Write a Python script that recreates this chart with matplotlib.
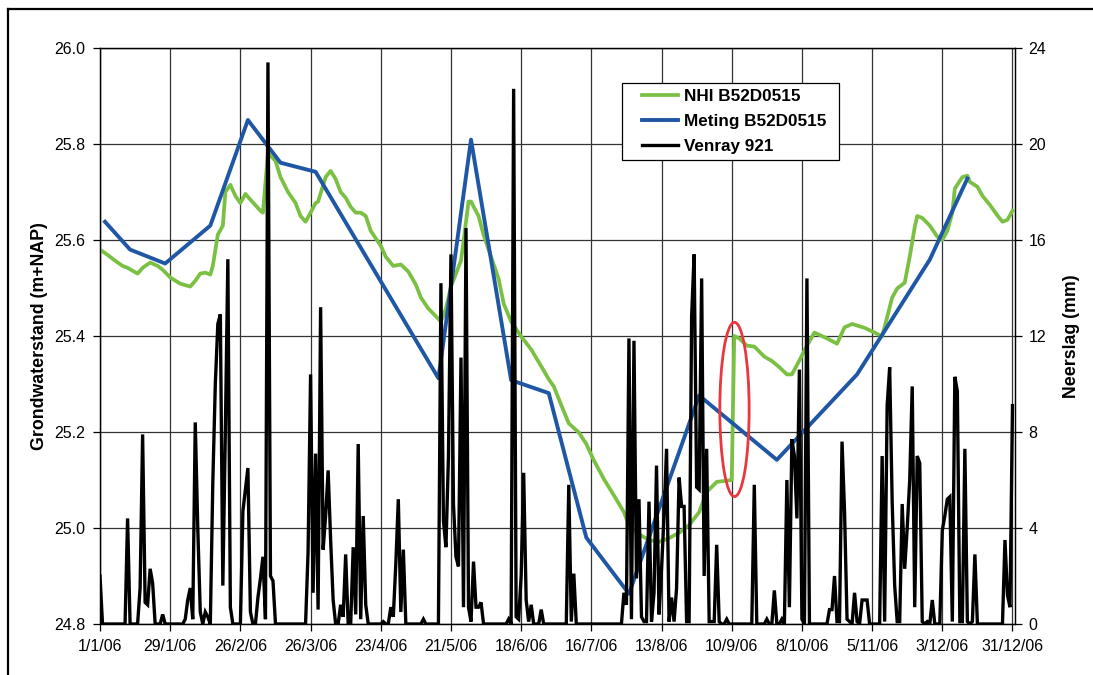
import matplotlib.pyplot as plt
from matplotlib.lines import Line2D
from matplotlib.legend_handler import HandlerLine2D
from matplotlib.patches import Ellipse

plt.rcParams['font.family'] = ['Liberation Sans', 'DejaVu Sans']

# dag 0 = 1/1/06, ticks elke 4 weken
tick_dagen = list(range(0, 365, 28))
tick_labels = ['1/1/06', '29/1/06', '26/2/06', '26/3/06', '23/4/06', '21/5/06', '18/6/06',
               '16/7/06', '13/8/06', '10/9/06', '8/10/06', '5/11/06', '3/12/06', '31/12/06']

# neerslag Venray 921 (mm/dag), 28 dagen per regel
neerslag = [
    2.0, 0, 0, 0, 0, 0, 0, 0, 0, 0, 0, 4.4, 0, 0, 0, 0, 1.5, 7.9, 0.9, 0.8, 2.3, 1.7, 0, 0, 0, 0.4, 0, 0,
    0, 0, 0, 0, 0, 0, 0.2, 1.0, 1.5, 0.2, 8.4, 4.0, 0.5, 0, 0.5, 0.3, 0, 5.9, 10.0, 12.5, 12.9, 1.6, 8.0, 15.2, 0.7, 0, 0, 0,
    0, 4.7, 5.6, 6.5, 0.5, 0, 0, 1.1, 1.9, 2.8, 0.2, 23.4, 2.0, 1.8, 0, 0, 0, 0, 0, 0, 0, 0, 0, 0, 0, 0, 0, 3.0,
    10.4, 1.3, 7.1, 0.6, 13.2, 3.1, 4.5, 6.4, 3.5, 1.0, 0, 0, 0.8, 0.3, 2.9, 0, 0, 3.2, 0.4, 7.5, 0.2, 4.5, 0.8, 0, 0, 0, 0, 0,
    0, 0.1, 0, 0, 0.7, 0.3, 2.5, 5.2, 0.5, 3.1, 0, 0, 0, 0, 0, 0, 0, 0.2, 0, 0, 0, 0, 0, 0, 14.2, 4.3, 3.2, 7.0,
    15.4, 5.0, 2.8, 2.4, 11.1, 0.7, 16.5, 0.7, 0.1, 2.6, 0.7, 0.7, 0.9, 0, 0, 0, 0, 0, 0, 0, 0, 0, 0, 0.2, 0, 22.3, 0.3, 0.2,
    2.0, 6.3, 1.0, 0.1, 0.8, 0, 0, 0, 0.6, 0, 0, 0, 0, 0, 0, 0, 0, 0, 0, 5.8, 0.1, 2.1, 0, 0, 0, 0, 0, 0,
    0, 0, 0, 0, 0, 0, 0, 0, 0, 0, 0, 0, 0, 1.3, 0.8, 11.9, 0.2, 11.8, 1.9, 5.2, 0.3, 0.1, 0.1, 5.1, 0.1, 1.3, 6.6, 0.4,
    2.3, 4.5, 7.3, 0.1, 1.1, 0.1, 1.5, 6.1, 4.9, 4.9, 0.1, 0.1, 12.8, 15.4, 5.7, 5.6, 14.4, 2.0, 7.3, 0.1, 0.1, 0.1, 3.3, 0.1, 0, 0, 0.2, 0,
    0, 0, 0, 0, 0, 0, 0, 0, 0, 5.8, 0, 0, 0, 0, 0.2, 0, 0, 1.4, 0, 0, 0.2, 0, 6.0, 0.7, 7.7, 7.0, 4.4, 10.6,
    0.2, 0, 14.4, 0, 0, 0, 0, 0, 0, 0, 0, 0.6, 0.6, 2.0, 0.1, 0.1, 7.6, 4.7, 0.2, 0.1, 0, 1.3, 0.1, 0, 1.0, 1.0, 1.0, 0,
    0, 0, 0, 0, 7.0, 0.1, 9.1, 10.7, 5.1, 1.6, 0.1, 0.1, 5.0, 2.3, 4.0, 6.0, 9.9, 0.7, 7.0, 6.7, 0.1, 0, 0.1, 0, 1.0, 0, 0, 0,
    3.9, 4.5, 5.2, 5.3, 0.1, 10.3, 9.7, 0.1, 0.1, 7.3, 0.1, 0, 0.1, 2.9, 0, 0, 0, 0, 0, 0, 0, 0, 0, 0, 0, 3.5, 1.2, 0.7,
    9.1,
]
neerslag_dag = list(range(len(neerslag)))

# gemeten grondwaterstand B52D0515 (m+NAP)
meting_dag = [2, 12, 26, 44, 59, 72, 86, 135, 148, 164, 179, 194, 211, 239, 270, 302, 331, 346]
meting_gws = [25.638, 25.580, 25.551, 25.630, 25.850, 25.761, 25.742, 25.312, 25.809, 25.308,
              25.281, 24.980, 24.863, 25.276, 25.142, 25.320, 25.559, 25.728]

# NHI modelresultaat B52D0515 (m+NAP)
nhi_dag = [0, 3, 6, 9, 11, 13, 15, 17, 20, 23, 25, 28, 32, 36, 38, 40, 42, 44, 45, 47,
           49, 50, 52, 54, 56, 58, 60, 64, 65, 67, 70, 72, 75, 78, 80, 82, 84, 86, 87, 90,
           92, 94, 96, 98, 100, 102, 104, 106, 108, 112, 114, 117, 120, 123, 126, 128, 131, 134, 136, 138,
           140, 144, 145, 147, 148, 151, 153, 156, 159, 161, 164, 168, 172, 176, 179, 181, 184, 187, 191, 194,
           197, 201, 205, 209, 211, 215, 219, 223, 227, 231, 235, 239, 242, 246, 249, 252, 253, 255, 258, 261,
           265, 268, 271, 274, 276, 279, 282, 285, 290, 294, 297, 300, 305, 309, 312, 316, 318, 321, 323, 325,
           326, 328, 331, 334, 336, 338, 340, 341, 342, 344, 346, 347, 350, 352, 355, 358, 360, 362, 364]
nhi_gws = [25.580, 25.569, 25.557, 25.546, 25.542, 25.536, 25.530, 25.542, 25.553, 25.546,
           25.538, 25.522, 25.509, 25.503, 25.515, 25.530, 25.532, 25.528, 25.546, 25.611,
           25.630, 25.700, 25.715, 25.692, 25.677, 25.696, 25.684, 25.661, 25.657, 25.781,
           25.765, 25.731, 25.700, 25.677, 25.650, 25.638, 25.657, 25.677, 25.680, 25.731,
           25.744, 25.727, 25.700, 25.688, 25.669, 25.657, 25.657, 25.650, 25.619, 25.588,
           25.565, 25.546, 25.549, 25.534, 25.507, 25.480, 25.457, 25.441, 25.430, 25.457,
           25.503, 25.557, 25.596, 25.680, 25.680, 25.650, 25.611, 25.565, 25.519, 25.468,
           25.430, 25.399, 25.372, 25.337, 25.310, 25.295, 25.256, 25.218, 25.199, 25.175,
           25.141, 25.102, 25.068, 25.033, 25.006, 24.987, 24.975, 24.971, 24.979, 24.990,
           25.006, 25.033, 25.075, 25.096, 25.098, 25.100, 25.400, 25.395, 25.380, 25.378,
           25.357, 25.348, 25.335, 25.320, 25.320, 25.349, 25.380, 25.407, 25.395, 25.384,
           25.418, 25.425, 25.417, 25.407, 25.399, 25.480, 25.499, 25.511, 25.565, 25.627,
           25.650, 25.646, 25.630, 25.607, 25.600, 25.619, 25.657, 25.707, 25.715, 25.731,
           25.734, 25.721, 25.711, 25.692, 25.673, 25.651, 25.638, 25.642, 25.661]

# markering sprong in NHI-reeks
ellips_dag, ellips_gws = 253.1, 25.247
ellips_breed, ellips_hoog = 11.7, 0.363

groen = '#7ac143'
blauw = '#1f57a5'
rood = '#e8383d'

fig = plt.figure(figsize=(10.93, 6.75), dpi=100)
ax = fig.add_axes([100 / 1093, 51 / 675, 915 / 1093, 576 / 675])
ax2 = ax.twinx()

ax.plot(nhi_dag, nhi_gws, color=groen, lw=2.7, solid_joinstyle='round', zorder=3)
ax.plot(meting_dag, meting_gws, color=blauw, lw=2.8, solid_joinstyle='round', zorder=3)
ax2.plot(neerslag_dag, neerslag, color='black', lw=2.4, solid_joinstyle='miter')

ax.add_patch(Ellipse((ellips_dag, ellips_gws), ellips_breed, ellips_hoog,
                     fill=False, edgecolor=rood, lw=2.0, zorder=4))

ax.set_xlim(0, 365)
ax.set_ylim(24.8, 26.0)
ax2.set_ylim(0, 24)
ax.set_xticks(tick_dagen)
ax.set_xticklabels(tick_labels)
ax.set_yticks([24.8 + 0.2 * i for i in range(7)])
ax.set_yticklabels([f'{24.8 + 0.2 * i:.1f}' for i in range(7)])
ax2.set_yticks(range(0, 25, 4))

ax.grid(True, color='#333333', lw=0.9)
ax.set_axisbelow(True)

ax.tick_params(axis='both', direction='out', length=5, width=0.9, labelsize=11.5, color='black')
ax.tick_params(axis='x', pad=6)
ax.tick_params(axis='y', pad=5.5)
ax2.tick_params(axis='y', direction='out', length=5, width=0.9, labelsize=11.5, pad=4.8)
for a in (ax, ax2):
    for s in a.spines.values():
        s.set_linewidth(0.9)
        s.set_color('black')

ax.set_ylabel('Grondwaterstand (m+NAP)', fontsize=12.8, fontweight='bold')
ax.yaxis.set_label_coords(-0.057, 0.5)
ax2.set_ylabel('Neerslag (mm)', fontsize=12.8, fontweight='bold')
ax2.yaxis.set_label_coords(1.052, 0.5)

handles = [Line2D([], [], color=groen, lw=2.7),
           Line2D([], [], color=blauw, lw=2.8),
           Line2D([], [], color='black', lw=2.4)]
labels = ['NHI B52D0515', 'Meting B52D0515', 'Venray 921']
leg = ax2.legend(handles, labels, loc='upper left', mode='expand',
                 bbox_to_anchor=(522 / 915, 1 - 160 / 576 + 48 / 576, 217 / 915, 77 / 576),
                 prop={'weight': 'bold', 'size': 12.3}, frameon=True, fancybox=False,
                 edgecolor='black', framealpha=1, borderpad=0.35, labelspacing=0.58,
                 handlelength=2.9, handletextpad=0.4, borderaxespad=0,
                 handler_map={Line2D: HandlerLine2D(xpad=0.8)})
leg.get_frame().set_linewidth(0.9)

# kader rond de figuur
fig.add_artist(Line2D([8 / 1093, 8 / 1093], [0, 1 - 9 / 675], color='black', lw=1.6))
fig.add_artist(Line2D([8 / 1093, 1], [1 - 9 / 675, 1 - 9 / 675], color='black', lw=1.6))

fig.savefig('out.png', dpi=100)
